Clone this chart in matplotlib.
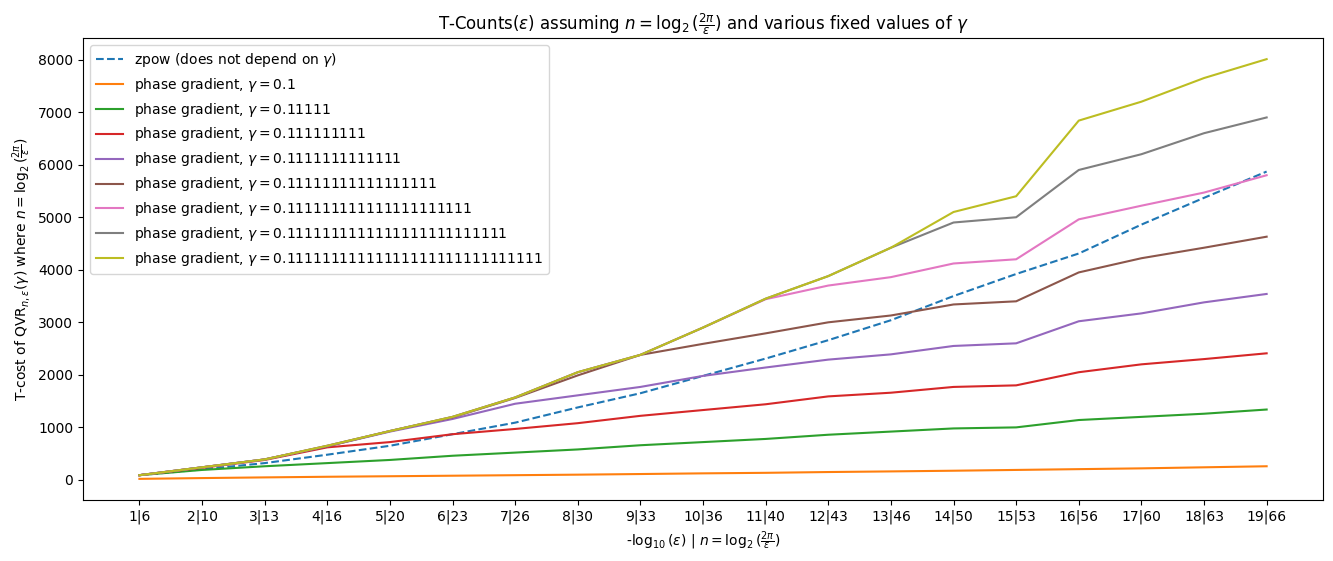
import numpy as np
import matplotlib.pyplot as plt

# precision steps: -log10(eps) and the matching n = log2(2pi/eps)
neg_log_eps = [1, 2, 3, 4, 5, 6, 7, 8, 9, 10, 11, 12, 13, 14, 15, 16, 17, 18, 19]
n_bits = [6, 10, 13, 16, 20, 23, 26, 30, 33, 36, 40, 43, 46, 50, 53, 56, 60, 63, 66]
tick_labels = [f'{a}|{b}' for a, b in zip(neg_log_eps, n_bits)]

zpow = [90, 200, 320, 480, 650, 870, 1090, 1380, 1650, 1980, 2310, 2660, 3040, 3500, 3920, 4310, 4860, 5370, 5870]

gammas = ['0.1', '0.11111', '0.111111111', '0.1111111111111', '0.11111111111111111',
          '0.111111111111111111111', '0.1111111111111111111111111', '0.11111111111111111111111111111']

pg_0 = [20, 35, 48, 60, 70, 80, 90, 100, 112, 125, 135, 150, 162, 175, 190, 205, 220, 240, 260]
pg_1 = [90, 190, 260, 320, 380, 460, 520, 580, 660, 720, 780, 860, 920, 980, 1000, 1140, 1200, 1260, 1340]
pg_2 = [90, 230, 380, 620, 720, 870, 970, 1080, 1220, 1330, 1440, 1590, 1660, 1770, 1800, 2050, 2200, 2300, 2410]
pg_3 = [90, 240, 390, 640, 920, 1160, 1450, 1610, 1770, 1980, 2140, 2290, 2390, 2550, 2600, 3020, 3170, 3380, 3540]
pg_4 = [90, 240, 390, 640, 930, 1190, 1560, 1990, 2380, 2590, 2790, 3000, 3130, 3340, 3400, 3950, 4220, 4420, 4630]
pg_5 = [90, 240, 390, 650, 930, 1200, 1570, 2050, 2380, 2900, 3440, 3700, 3860, 4120, 4200, 4960, 5220, 5470, 5800]
pg_6 = [90, 240, 390, 650, 930, 1200, 1570, 2050, 2380, 2900, 3450, 3880, 4420, 4900, 5000, 5900, 6200, 6600, 6900]
pg_7 = [90, 240, 390, 650, 930, 1200, 1570, 2050, 2380, 2900, 3450, 3880, 4420, 5100, 5400, 6840, 7200, 7650, 8010]
phase_grad = [pg_0, pg_1, pg_2, pg_3, pg_4, pg_5, pg_6, pg_7]

fig, ax = plt.subplots(figsize=(13.33, 5.61), dpi=100)
x = np.arange(len(tick_labels))
ax.plot(x, zpow, '--', label=r'zpow (does not depend on $\gamma$)')
for g, vals in zip(gammas, phase_grad):
    ax.plot(x, vals, label=rf'phase gradient, $\gamma = {g}$')

ax.set_xticks(x)
ax.set_xticklabels(tick_labels)
ax.set_title(r'T-Counts($\varepsilon$) assuming $n = \log_2{(\frac{2\pi}{\varepsilon})}$ and various fixed values of $\gamma$')
ax.set_ylabel(r'T-cost of QVR$_{n,\varepsilon}(\gamma)$ where $n = \log_2{(\frac{2\pi}{\varepsilon})}$')
ax.set_xlabel(r'-$\log_{10}{(\varepsilon)}$ | $n = \log_2{(\frac{2\pi}{\varepsilon})}$')
ax.legend(loc='upper left')
fig.subplots_adjust(left=0.0623, right=0.9925, top=0.932, bottom=0.109)
plt.savefig('out.png', dpi=100)
